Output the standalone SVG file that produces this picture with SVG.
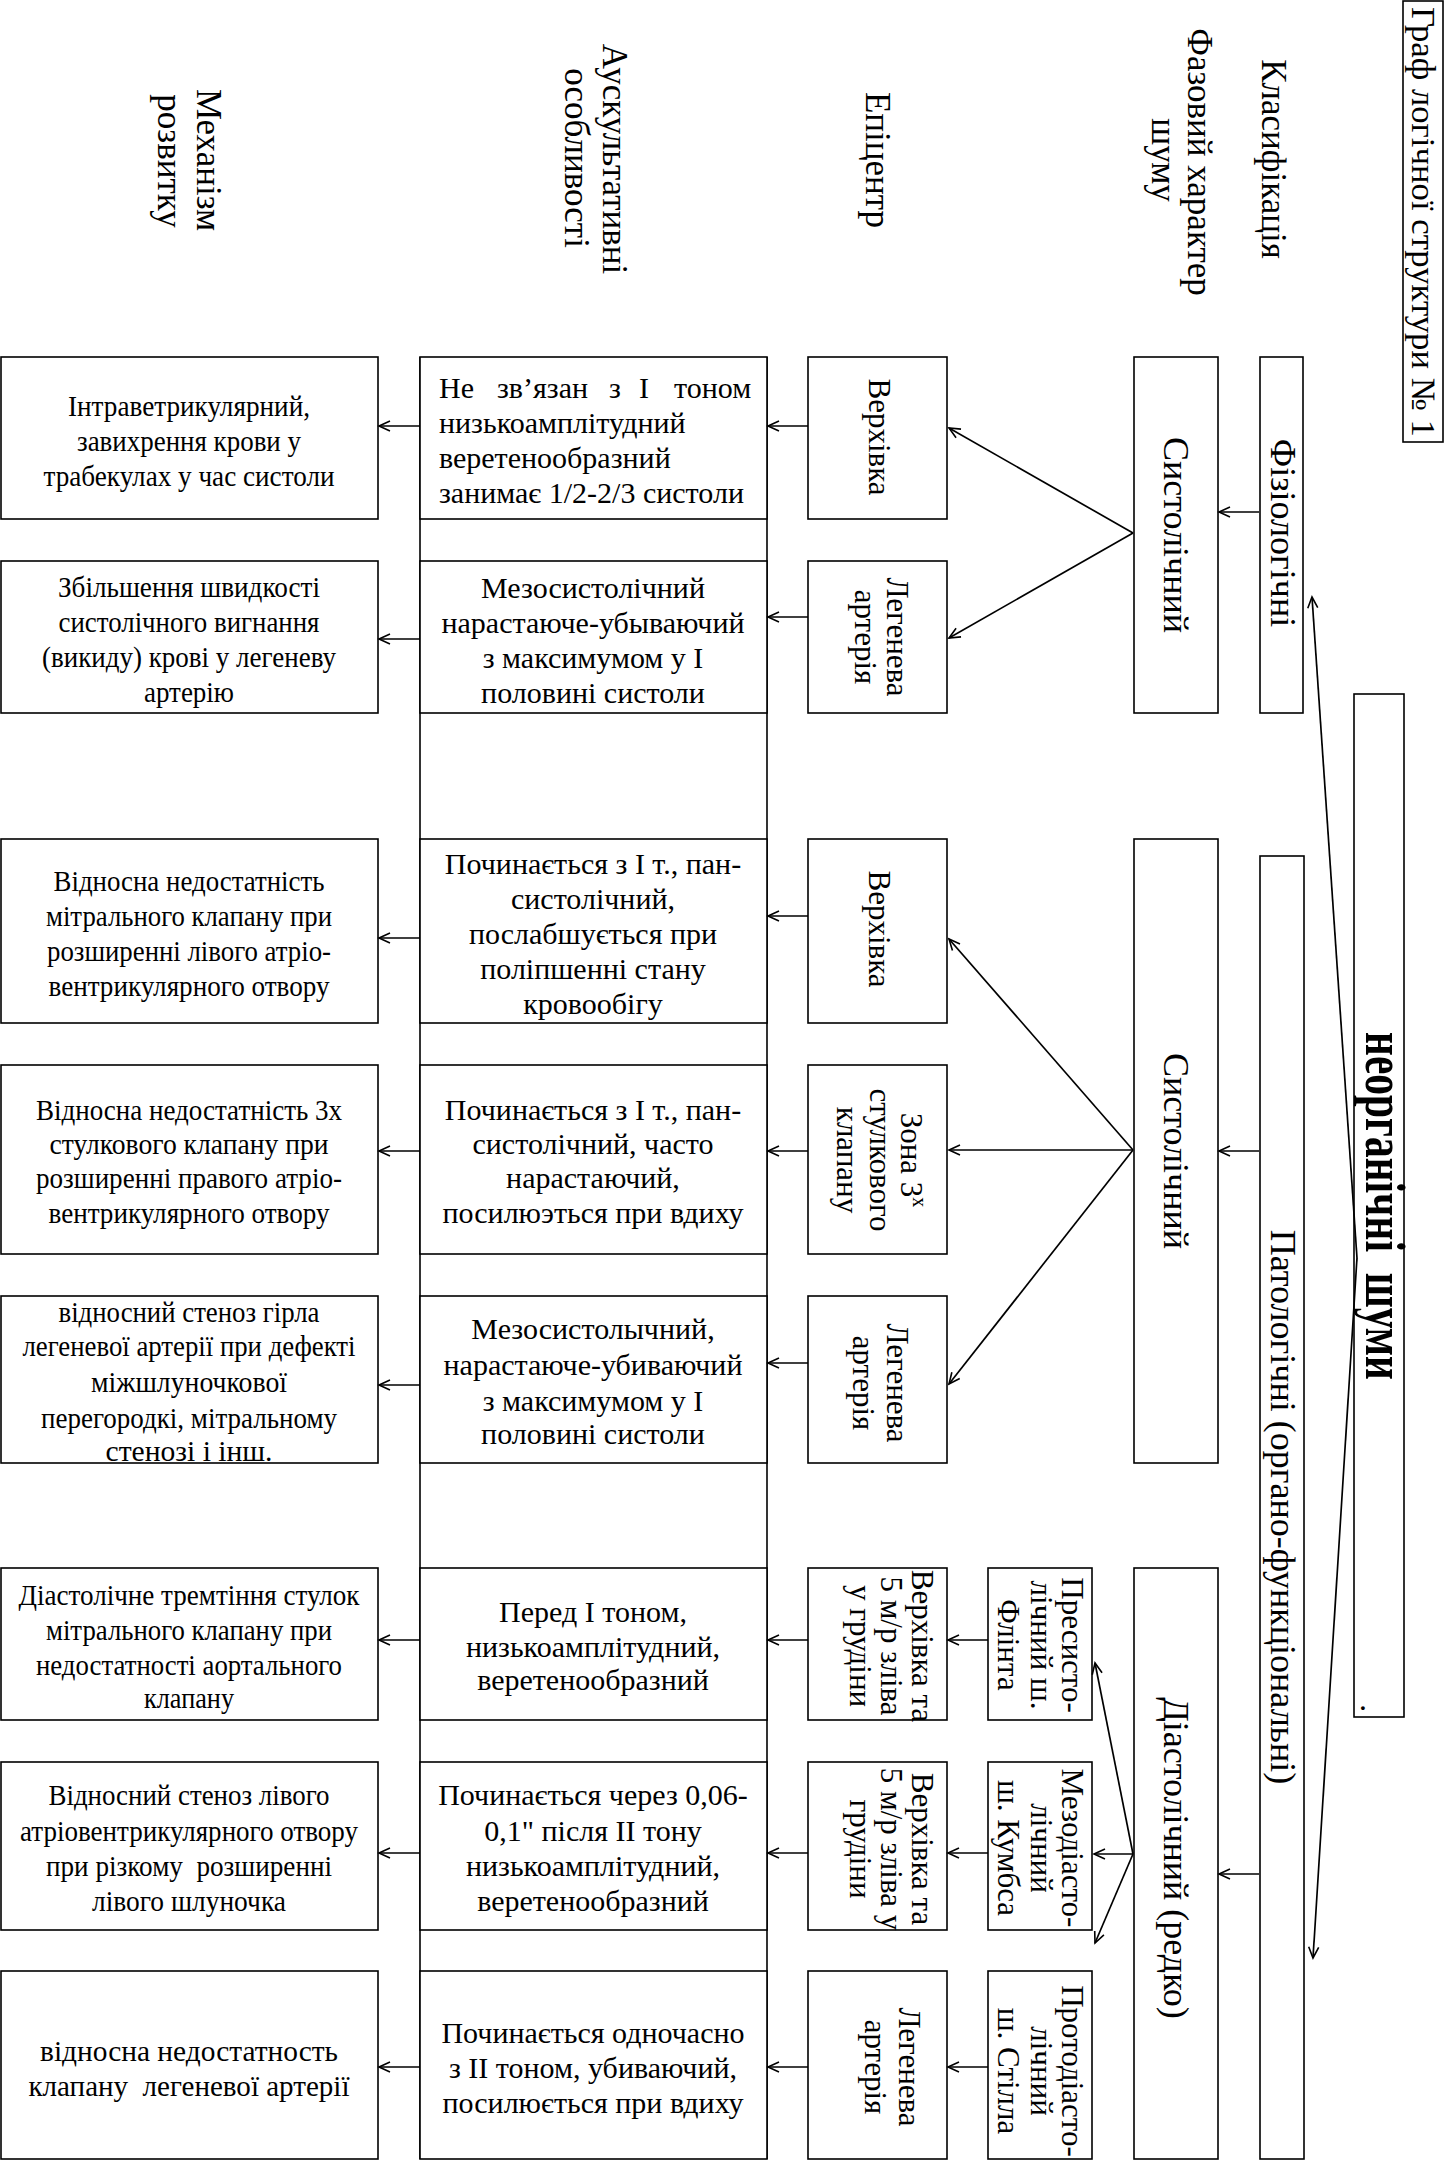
<svg xmlns="http://www.w3.org/2000/svg" width="1445" height="2161" viewBox="0 0 1445 2161">
<defs>
<marker id="arr" markerUnits="userSpaceOnUse" markerWidth="14" markerHeight="12" refX="12" refY="6" orient="auto">
<path d="M1,1 L12,6 L1,11" fill="none" stroke="#000" stroke-width="1.6"/>
</marker>
<style>
.b{fill:#fff;stroke:#000;stroke-width:1.6}
.t{font-family:"Liberation Serif","Times New Roman",serif;font-size:30px;fill:#000}
.c{text-anchor:middle}
.r{font-family:"Liberation Serif","Times New Roman",serif;font-size:31px;fill:#000;text-anchor:middle}
.h{font-size:35px}
.p{font-size:36px}
#conn line{stroke:#000;stroke-width:1.7;marker-end:url(#arr)}
.col{stroke:#000;stroke-width:1.6}
</style>
</defs>
<rect width="1445" height="2161" fill="#fff"/>

<g id="title">
<rect class="b" x="1403" y="1" width="40" height="441"/>
<text class="r" style="font-size:34px" textLength="430" lengthAdjust="spacingAndGlyphs" transform="translate(1412,222) rotate(90)">Граф логічної структури № 1</text>
</g>

<g id="headers">
<text class="r h" transform="translate(1262,159) rotate(90)">Класифікація</text>
<text class="r h" transform="translate(1188,162) rotate(90)">Фазовий характер</text>
<text class="r h" transform="translate(1152,160) rotate(90)">шуму</text>
<text class="r h" transform="translate(866,160) rotate(90)">Епіцентр</text>
<text class="r h" transform="translate(603,159) rotate(90)">Аускультативні</text>
<text class="r h" transform="translate(565,158) rotate(90)">особливості</text>
<text class="r h" transform="translate(197,160) rotate(90)">Механізм</text>
<text class="r h" transform="translate(158,161) rotate(90)">розвитку</text>
</g>

<line class="col" x1="420" y1="357" x2="420" y2="2159"/>
<line class="col" x1="767" y1="357" x2="767" y2="2159"/>

<g id="neorg">
<rect class="b" x="1354" y="694" width="50" height="1023"/>
<text class="r" style="font-size:56px;font-weight:bold" textLength="348" lengthAdjust="spacingAndGlyphs" transform="translate(1366,1206) rotate(90)" xml:space="preserve">неорганічні  шуми</text>
<text class="r" transform="translate(1361,1708) rotate(90)">.</text>
</g>

<g id="fiziol">
<rect class="b" x="1260" y="357" width="43" height="356"/>
<text class="r p" transform="translate(1271,533) rotate(90)">Фізіологічні</text>
</g>
<g id="patol">
<rect class="b" x="1260" y="856" width="44" height="1303"/>
<text class="r p" transform="translate(1271,1507) rotate(90)">Патологічні (органо-функціональні)</text>
</g>

<g id="phase1">
<rect class="b" x="1134" y="357" width="84" height="356"/>
<text class="r p" transform="translate(1164,535) rotate(90)">Систолічний</text>
</g>
<g id="phase2">
<rect class="b" x="1134" y="839" width="84" height="624"/>
<text class="r p" transform="translate(1164,1151) rotate(90)">Систолічний</text>
</g>
<g id="phase3">
<rect class="b" x="1134" y="1568" width="84" height="591"/>
<text class="r p" transform="translate(1164,1858) rotate(90)">Діастолічний (редко)</text>
</g>

<g id="sub6">
<rect class="b" x="988" y="1568" width="104" height="152"/>
<text class="r" transform="translate(1062,1645) rotate(90)">Пресисто-</text>
<text class="r" transform="translate(1031,1645) rotate(90)">лічний ш.</text>
<text class="r" transform="translate(998,1645) rotate(90)">Флінта</text>
</g>
<g id="sub7">
<rect class="b" x="988" y="1762" width="104" height="168"/>
<text class="r" transform="translate(1062,1848) rotate(90)">Мезодіасто-</text>
<text class="r" transform="translate(1031,1848) rotate(90)">лічний</text>
<text class="r" transform="translate(998,1848) rotate(90)">ш. Кумбса</text>
</g>
<g id="sub8">
<rect class="b" x="988" y="1971" width="104" height="188"/>
<text class="r" transform="translate(1062,2071) rotate(90)">Протодіасто-</text>
<text class="r" transform="translate(1031,2071) rotate(90)">лічний</text>
<text class="r" transform="translate(998,2071) rotate(90)">ш. Стілла</text>
</g>

<g id="epi1">
<rect class="b" x="808" y="357" width="139" height="162"/>
<text class="r" transform="translate(869,437) rotate(90)">Верхівка</text>
</g>
<g id="epi2">
<rect class="b" x="808" y="561" width="139" height="152"/>
<text class="r" transform="translate(887,637) rotate(90)">Легенева</text>
<text class="r" transform="translate(855,637) rotate(90)">артерія</text>
</g>
<g id="epi3">
<rect class="b" x="808" y="839" width="139" height="184"/>
<text class="r" transform="translate(869,929) rotate(90)">Верхівка</text>
</g>
<g id="epi4">
<rect class="b" x="808" y="1065" width="139" height="189"/>
<text class="r" transform="translate(901,1160) rotate(90)">Зона 3<tspan font-size="20" dy="-12">х</tspan></text>
<text class="r" transform="translate(870,1160) rotate(90)">стулкового</text>
<text class="r" transform="translate(837,1160) rotate(90)">клапану</text>
</g>
<g id="epi5">
<rect class="b" x="808" y="1296" width="139" height="167"/>
<text class="r" transform="translate(887,1383) rotate(90)">Легенева</text>
<text class="r" transform="translate(853,1383) rotate(90)">артерія</text>
</g>
<g id="epi6">
<rect class="b" x="808" y="1568" width="139" height="152"/>
<text class="r" transform="translate(912,1646) rotate(90)">Верхівка та</text>
<text class="r" transform="translate(881,1646) rotate(90)">5 м/р зліва</text>
<text class="r" transform="translate(850,1646) rotate(90)">у грудіни</text>
</g>
<g id="epi7">
<rect class="b" x="808" y="1762" width="139" height="168"/>
<text class="r" transform="translate(912,1849) rotate(90)">Верхівка та</text>
<text class="r" transform="translate(881,1849) rotate(90)">5 м/р зліва у</text>
<text class="r" transform="translate(850,1849) rotate(90)">грудіни</text>
</g>
<g id="epi8">
<rect class="b" x="808" y="1971" width="139" height="188"/>
<text class="r" transform="translate(899,2067) rotate(90)">Легенева</text>
<text class="r" transform="translate(865,2067) rotate(90)">артерія</text>
</g>

<g id="aus1">
<rect class="b" x="420" y="357" width="347" height="162"/>
<text class="t" y="398"><tspan x="439">Не</tspan><tspan x="497">зв’язан</tspan><tspan x="609">з</tspan><tspan x="639">І</tspan><tspan x="674">тоном</tspan></text>
<text class="t" x="439" y="433">низькоамплітудний</text>
<text class="t" x="439" y="468">веретенообразний</text>
<text class="t" x="439" y="503">занимає 1/2-2/3 систоли</text>
</g>
<g id="aus2">
<rect class="b" x="420" y="561" width="347" height="152"/>
<text class="t c" x="593" y="598">Мезосистолічний</text>
<text class="t c" x="593" y="633">нарастаюче-убываючий</text>
<text class="t c" x="593" y="668">з максимумом у І</text>
<text class="t c" x="593" y="703">половині систоли</text>
</g>
<g id="aus3">
<rect class="b" x="420" y="839" width="347" height="184"/>
<text class="t c" x="593" y="874">Починається з І т., пан-</text>
<text class="t c" x="593" y="909">систолічний,</text>
<text class="t c" x="593" y="944">послабшується при</text>
<text class="t c" x="593" y="979">поліпшенні стану</text>
<text class="t c" x="593" y="1014">кровообігу</text>
</g>
<g id="aus4">
<rect class="b" x="420" y="1065" width="347" height="189"/>
<text class="t c" x="593" y="1120">Починається з І т., пан-</text>
<text class="t c" x="593" y="1154">систолічний, часто</text>
<text class="t c" x="593" y="1188">нарастаючий,</text>
<text class="t c" x="593" y="1223">посилюэться при вдиху</text>
</g>
<g id="aus5">
<rect class="b" x="420" y="1296" width="347" height="167"/>
<text class="t c" x="593" y="1339">Мезосистолычний,</text>
<text class="t c" x="593" y="1375">нарастаюче-убиваючий</text>
<text class="t c" x="593" y="1411">з максимумом у І</text>
<text class="t c" x="593" y="1444">половині систоли</text>
</g>
<g id="aus6">
<rect class="b" x="420" y="1568" width="347" height="152"/>
<text class="t c" x="593" y="1622">Перед І тоном,</text>
<text class="t c" x="593" y="1657">низькоамплітудний,</text>
<text class="t c" x="593" y="1690">веретенообразний</text>
</g>
<g id="aus7">
<rect class="b" x="420" y="1762" width="347" height="168"/>
<text class="t c" x="593" y="1805">Починається через 0,06-</text>
<text class="t c" x="593" y="1841">0,1" після ІІ тону</text>
<text class="t c" x="593" y="1876">низькоамплітудний,</text>
<text class="t c" x="593" y="1911">веретенообразний</text>
</g>
<g id="aus8">
<rect class="b" x="420" y="1971" width="347" height="188"/>
<text class="t c" x="593" y="2043">Починається одночасно</text>
<text class="t c" x="593" y="2078">з ІІ тоном, убиваючий,</text>
<text class="t c" x="593" y="2113">посилюється при вдиху</text>
</g>

<g id="mech1">
<rect class="b" x="1" y="357" width="377" height="162"/>
<text class="t c" x="189" y="416" textLength="242" lengthAdjust="spacingAndGlyphs">Інтраветрикулярний,</text>
<text class="t c" x="189" y="451" textLength="224" lengthAdjust="spacingAndGlyphs">завихрення крови у</text>
<text class="t c" x="189" y="486" textLength="291" lengthAdjust="spacingAndGlyphs">трабекулах у час систоли</text>
</g>
<g id="mech2">
<rect class="b" x="1" y="561" width="377" height="152"/>
<text class="t c" x="189" y="597" textLength="262" lengthAdjust="spacingAndGlyphs">Збільшення швидкості</text>
<text class="t c" x="189" y="632" textLength="261" lengthAdjust="spacingAndGlyphs">систолічного вигнання</text>
<text class="t c" x="189" y="667" textLength="294" lengthAdjust="spacingAndGlyphs">(викиду) крові у легеневу</text>
<text class="t c" x="189" y="702" textLength="90" lengthAdjust="spacingAndGlyphs">артерію</text>
</g>
<g id="mech3">
<rect class="b" x="1" y="839" width="377" height="184"/>
<text class="t c" x="189" y="891" textLength="271" lengthAdjust="spacingAndGlyphs">Відносна недостатність</text>
<text class="t c" x="189" y="926" textLength="286" lengthAdjust="spacingAndGlyphs">мітрального клапану при</text>
<text class="t c" x="189" y="961" textLength="284" lengthAdjust="spacingAndGlyphs">розширенні лівого атріо-</text>
<text class="t c" x="189" y="996" textLength="281" lengthAdjust="spacingAndGlyphs">вентрикулярного отвору</text>
</g>
<g id="mech4">
<rect class="b" x="1" y="1065" width="377" height="189"/>
<text class="t c" x="189" y="1120" textLength="306" lengthAdjust="spacingAndGlyphs">Відносна недостатність 3х</text>
<text class="t c" x="189" y="1154" textLength="279" lengthAdjust="spacingAndGlyphs">стулкового клапану при</text>
<text class="t c" x="189" y="1188" textLength="306" lengthAdjust="spacingAndGlyphs">розширенні правого атріо-</text>
<text class="t c" x="189" y="1223" textLength="281" lengthAdjust="spacingAndGlyphs">вентрикулярного отвору</text>
</g>
<g id="mech5">
<rect class="b" x="1" y="1296" width="377" height="167"/>
<text class="t c" x="189" y="1322" textLength="261" lengthAdjust="spacingAndGlyphs">відносний стеноз гірла</text>
<text class="t c" x="189" y="1356" textLength="333" lengthAdjust="spacingAndGlyphs">легеневої артерії при дефекті</text>
<text class="t c" x="189" y="1392" textLength="196" lengthAdjust="spacingAndGlyphs">міжшлуночкової</text>
<text class="t c" x="189" y="1428" textLength="296" lengthAdjust="spacingAndGlyphs">перегородкі, мітральному</text>
<text class="t c" x="189" y="1461" textLength="167" lengthAdjust="spacingAndGlyphs">стенозі і інш.</text>
</g>
<g id="mech6">
<rect class="b" x="1" y="1568" width="377" height="152"/>
<text class="t c" x="189" y="1605" textLength="341" lengthAdjust="spacingAndGlyphs">Діастолічне тремтіння стулок</text>
<text class="t c" x="189" y="1640" textLength="286" lengthAdjust="spacingAndGlyphs">мітрального клапану при</text>
<text class="t c" x="189" y="1675" textLength="306" lengthAdjust="spacingAndGlyphs">недостатності аортального</text>
<text class="t c" x="189" y="1708" textLength="90" lengthAdjust="spacingAndGlyphs">клапану</text>
</g>
<g id="mech7">
<rect class="b" x="1" y="1762" width="377" height="168"/>
<text class="t c" x="189" y="1805" textLength="281" lengthAdjust="spacingAndGlyphs">Відносний стеноз лівого</text>
<text class="t c" x="189" y="1841" textLength="338" lengthAdjust="spacingAndGlyphs">атріовентрикулярного отвору</text>
<text class="t c" x="189" y="1876" textLength="286" lengthAdjust="spacingAndGlyphs" xml:space="preserve">при різкому  розширенні</text>
<text class="t c" x="189" y="1911" textLength="194" lengthAdjust="spacingAndGlyphs">лівого шлуночка</text>
</g>
<g id="mech8">
<rect class="b" x="1" y="1971" width="377" height="188"/>
<text class="t c" x="189" y="2061" textLength="298" lengthAdjust="spacingAndGlyphs">відносна недостатность</text>
<text class="t c" x="189" y="2096" textLength="321" lengthAdjust="spacingAndGlyphs" xml:space="preserve">клапану  легеневої артерії</text>
</g>

<g id="conn">
<line x1="1357" y1="1258" x2="1312" y2="597"/>
<line x1="1357" y1="1258" x2="1313" y2="1958"/>
<line x1="1259" y1="512" x2="1219" y2="512"/>
<line x1="1259" y1="1151" x2="1219" y2="1151"/>
<line x1="1259" y1="1874" x2="1219" y2="1874"/>
<line x1="1133" y1="533" x2="949" y2="428"/>
<line x1="1133" y1="533" x2="949" y2="638"/>
<line x1="1133" y1="1150" x2="949" y2="939"/>
<line x1="1133" y1="1150" x2="949" y2="1150"/>
<line x1="1133" y1="1150" x2="949" y2="1384"/>
<line x1="1133" y1="1854" x2="1095" y2="1663"/>
<line x1="1133" y1="1854" x2="1094" y2="1854"/>
<line x1="1133" y1="1854" x2="1095" y2="1943"/>
<line x1="988" y1="1640" x2="948" y2="1640"/>
<line x1="988" y1="1853" x2="948" y2="1853"/>
<line x1="988" y1="2067" x2="948" y2="2067"/>
<line x1="808" y1="426" x2="768" y2="426"/>
<line x1="808" y1="617" x2="768" y2="617"/>
<line x1="808" y1="916" x2="768" y2="916"/>
<line x1="808" y1="1151" x2="768" y2="1151"/>
<line x1="808" y1="1363" x2="768" y2="1363"/>
<line x1="808" y1="1640" x2="768" y2="1640"/>
<line x1="808" y1="1853" x2="768" y2="1853"/>
<line x1="808" y1="2067" x2="768" y2="2067"/>
<line x1="420" y1="426" x2="379" y2="426"/>
<line x1="420" y1="639" x2="379" y2="639"/>
<line x1="420" y1="938" x2="379" y2="938"/>
<line x1="420" y1="1151" x2="379" y2="1151"/>
<line x1="420" y1="1385" x2="379" y2="1385"/>
<line x1="420" y1="1640" x2="379" y2="1640"/>
<line x1="420" y1="1853" x2="379" y2="1853"/>
<line x1="420" y1="2067" x2="379" y2="2067"/>
</g>
</svg>
